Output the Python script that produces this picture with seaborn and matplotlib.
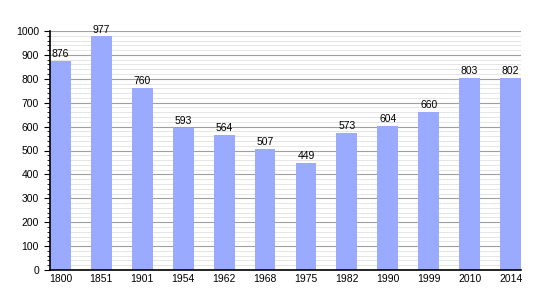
import matplotlib
matplotlib.use("Agg")
import matplotlib.pyplot as plt
import seaborn as sns
import pandas as pd
from matplotlib.ticker import MultipleLocator

years = ["1800", "1851", "1901", "1954", "1962", "1968", "1975", "1982", "1990", "1999", "2010", "2014"]
population = [876, 977, 760, 593, 564, 507, 449, 573, 604, 660, 803, 802]

df = pd.DataFrame({"year": years, "pop": population})

sns.set_style("white")
plt.rcParams['font.family'] = ['Liberation Sans', 'DejaVu Sans']

fig = plt.figure(figsize=(5.5, 3), dpi=100)
ax = fig.add_axes([50/550, 30/300, 471/550, 239/300])

sns.barplot(data=df, x="year", y="pop", color="#99aaff", width=0.51, ax=ax,
            zorder=3, saturation=1, linewidth=0, edgecolor="none")

ax.set_ylim(0, 1000)
ax.set_xlim(-0.255, 11.255)
ax.yaxis.set_major_locator(MultipleLocator(100))
ax.yaxis.set_minor_locator(MultipleLocator(20))
ax.grid(which="major", axis="y", color="#a0a0a0", linewidth=0.8, zorder=0)
ax.grid(which="minor", axis="y", color="#e0e0e0", linewidth=0.6, zorder=0)
ax.set_axisbelow(True)

for s in ["top", "right"]:
    ax.spines[s].set_visible(False)
for s in ["left", "bottom"]:
    ax.spines[s].set_color("black")
    ax.spines[s].set_linewidth(1.2)
    ax.spines[s].set_zorder(5)

ax.tick_params(axis="y", which="major", length=4, width=0.8, direction="out", left=True,
               labelsize=7.5, pad=4, colors="black")
ax.tick_params(axis="y", which="minor", length=2, width=0.6, direction="out", left=True, colors="black")
ax.tick_params(axis="x", length=0, labelsize=7.5, pad=3, colors="black")
ax.set_xlabel("")
ax.set_ylabel("")

for i, v in enumerate(population):
    ax.text(i, v + 8, str(v), ha="center", va="bottom", fontsize=7.5, color="black", zorder=6)

fig.savefig("out.png", dpi=100)
